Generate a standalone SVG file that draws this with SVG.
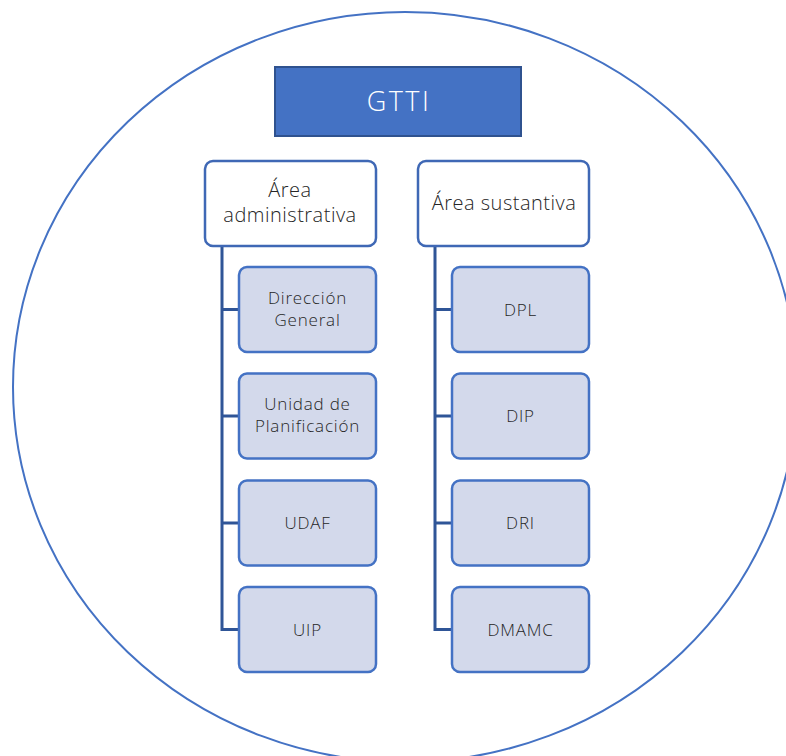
<svg xmlns="http://www.w3.org/2000/svg" width="786" height="756" viewBox="0 0 786 756">
<style>
  text { font-family: "Open Sans", "Liberation Sans", sans-serif; text-anchor: middle; font-weight: 300; }
  .head { fill: #ffffff; stroke: #3F68B5; stroke-width: 2.5; }
  .headtxt { fill: #262626; font-size: 20px; letter-spacing: 0.5px; }
  .child { fill: #D3D9EB; stroke: #4472C4; stroke-width: 2.5; }
  .childtxt { fill: #262626; font-size: 17px; letter-spacing: 0.8px; }
  .conn { fill: none; stroke: #2F5597; stroke-width: 3; }
</style>
<ellipse cx="405" cy="387" rx="392" ry="375" fill="none" stroke="#4472C4" stroke-width="2"/>
<g id="gtti">
  <rect x="275" y="67" width="246" height="69" fill="#4472C4" stroke="#2F528F" stroke-width="2"/>
  <text x="399" y="111" fill="#ffffff" style="font-size:27px;letter-spacing:2.5px">GTTI</text>
</g>
<g id="connectors">
  <polyline class="conn" points="222,246 222,629.5 239,629.5"/>
  <line class="conn" x1="222" y1="309.5" x2="239" y2="309.5"/>
  <line class="conn" x1="222" y1="416" x2="239" y2="416"/>
  <line class="conn" x1="222" y1="523" x2="239" y2="523"/>
  <polyline class="conn" points="435,246 435,629.5 452,629.5"/>
  <line class="conn" x1="435" y1="309.5" x2="452" y2="309.5"/>
  <line class="conn" x1="435" y1="416" x2="452" y2="416"/>
  <line class="conn" x1="435" y1="523" x2="452" y2="523"/>
</g>
<g id="area-administrativa">
  <rect class="head" x="205" y="161" width="171" height="85" rx="8"/>
  <text class="headtxt" x="290" y="197">Área</text>
  <text class="headtxt" x="290" y="222">administrativa</text>
</g>
<g id="area-sustantiva">
  <rect class="head" x="418" y="161" width="171" height="85" rx="8"/>
  <text class="headtxt" x="504" y="210">Área sustantiva</text>
</g>
<g id="direccion-general">
  <rect class="child" x="239" y="267" width="137" height="85" rx="8"/>
  <text class="childtxt" x="307.5" y="304">Dirección</text>
  <text class="childtxt" x="307.5" y="326">General</text>
</g>
<g id="unidad-planificacion">
  <rect class="child" x="239" y="373.5" width="137" height="85" rx="8"/>
  <text class="childtxt" x="307.5" y="410">Unidad de</text>
  <text class="childtxt" x="307.5" y="432">Planificación</text>
</g>
<g id="udaf">
  <rect class="child" x="239" y="480.5" width="137" height="85" rx="8"/>
  <text class="childtxt" x="307.5" y="529">UDAF</text>
</g>
<g id="uip">
  <rect class="child" x="239" y="587" width="137" height="85" rx="8"/>
  <text class="childtxt" x="307.5" y="635.5">UIP</text>
</g>
<g id="dpl">
  <rect class="child" x="452" y="267" width="137" height="85" rx="8"/>
  <text class="childtxt" x="520.5" y="315.5">DPL</text>
</g>
<g id="dip">
  <rect class="child" x="452" y="373.5" width="137" height="85" rx="8"/>
  <text class="childtxt" x="520.5" y="422">DIP</text>
</g>
<g id="dri">
  <rect class="child" x="452" y="480.5" width="137" height="85" rx="8"/>
  <text class="childtxt" x="520.5" y="529">DRI</text>
</g>
<g id="dmamc">
  <rect class="child" x="452" y="587" width="137" height="85" rx="8"/>
  <text class="childtxt" x="520.5" y="635.5">DMAMC</text>
</g>
</svg>
